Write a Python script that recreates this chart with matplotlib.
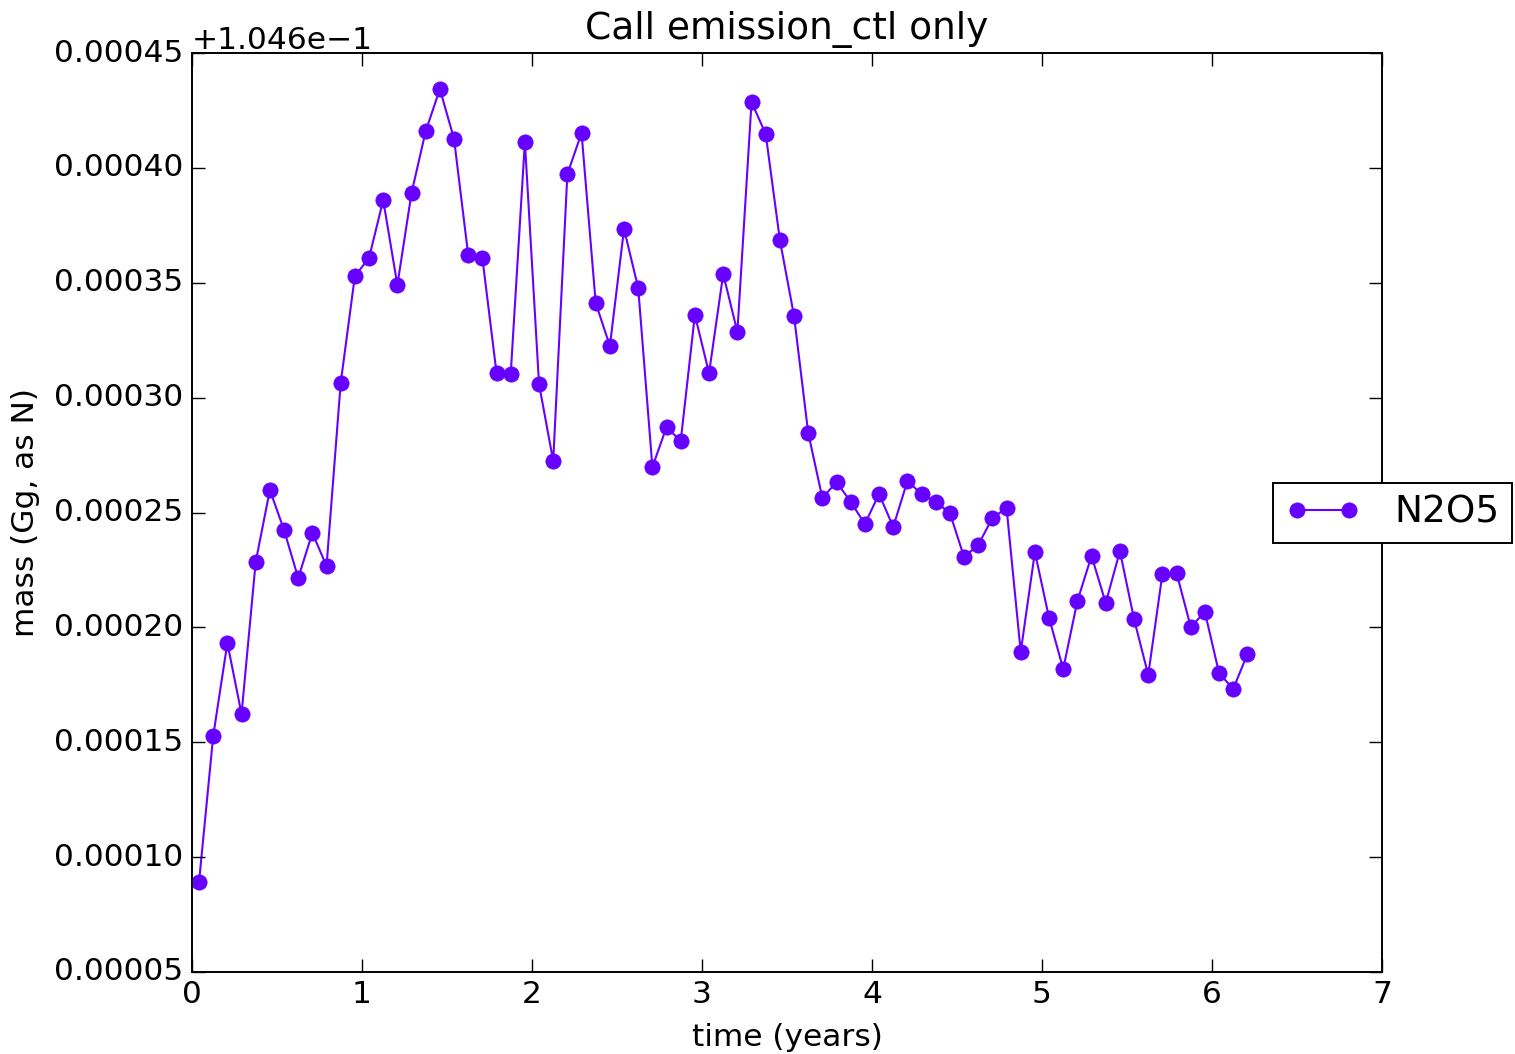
import matplotlib
matplotlib.use("Agg")
import matplotlib.pyplot as plt
from matplotlib.ticker import ScalarFormatter
import numpy as np

# monthly means, mid-month time stamps (years)
n_months = 75
time_years = (np.arange(n_months) + 0.5) / 12.0

# N2O5 mass above 0.1046 Gg, in units of 1e-4 Gg
base_mass = 0.1046
n2o5_offset_e4 = [
    0.892, 1.527, 1.932, 1.623, 2.285, 2.598, 2.424, 2.215, 2.411, 2.267,
    3.064, 3.529, 3.608, 3.860, 3.490, 3.891, 4.160, 4.343, 4.126, 3.621,
    3.608, 3.107, 3.103, 4.113, 3.059, 2.724, 3.973, 4.152, 3.412, 3.225,
    3.734, 3.477, 2.698, 2.872, 2.811, 3.360, 3.107, 3.538, 3.286, 4.287,
    4.147, 3.686, 3.355, 2.846, 2.563, 2.633, 2.546, 2.450, 2.581, 2.437,
    2.637, 2.581, 2.546, 2.498, 2.306, 2.359, 2.476, 2.520, 1.893, 2.328,
    2.041, 1.819, 2.115, 2.311, 2.106, 2.332, 2.036, 1.793, 2.232, 2.237,
    2.002, 2.067, 1.801, 1.732, 1.884,
]
n2o5_mass = base_mass + np.array(n2o5_offset_e4) * 1e-4

series_label = "N2O5"
line_color = "#6600ff"

plt.style.use("classic")
plt.rcParams["font.family"] = ["DejaVu Sans"]
plt.rcParams["font.size"] = 22.5

fig = plt.figure(figsize=(15.15, 10.54), dpi=100, facecolor="white")
fig.subplots_adjust(left=0.1267, right=0.9122, bottom=0.0778, top=0.9497)
ax = fig.add_subplot(111)

ax.plot(time_years, n2o5_mass, "-o", color=line_color, mec=line_color,
        mfc=line_color, lw=1.5, ms=11, label=series_label)

ax.set_xlim(0, 7)
ax.set_ylim(base_mass + 0.00005, base_mass + 0.00045)
ax.set_yticks(base_mass + np.arange(0.00005, 0.00046, 0.00005))
ax.yaxis.set_major_formatter(ScalarFormatter(useOffset=base_mass))
ax.set_xlabel("time (years)", fontsize=22.5, labelpad=10)
ax.set_ylabel("mass (Gg, as N)", fontsize=22.5, labelpad=10)
ax.set_title("Call emission_ctl only", fontsize=27, pad=10)

for sp in ax.spines.values():
    sp.set_linewidth(1.4)
ax.tick_params(axis="both", which="major", length=9.5, width=1.0,
               labelsize=22.5, direction="in", pad=6)

leg = ax.legend(loc="center left", bbox_to_anchor=(0.8403, 0.5133),
                bbox_transform=fig.transFigure, borderaxespad=0,
                borderpad=0.33, handletextpad=0.9, fontsize=27,
                numpoints=2, fancybox=False)
leg.get_frame().set_linewidth(1.4)
leg.get_frame().set_edgecolor("black")

fig.savefig("out.png", dpi=100, facecolor="white")
